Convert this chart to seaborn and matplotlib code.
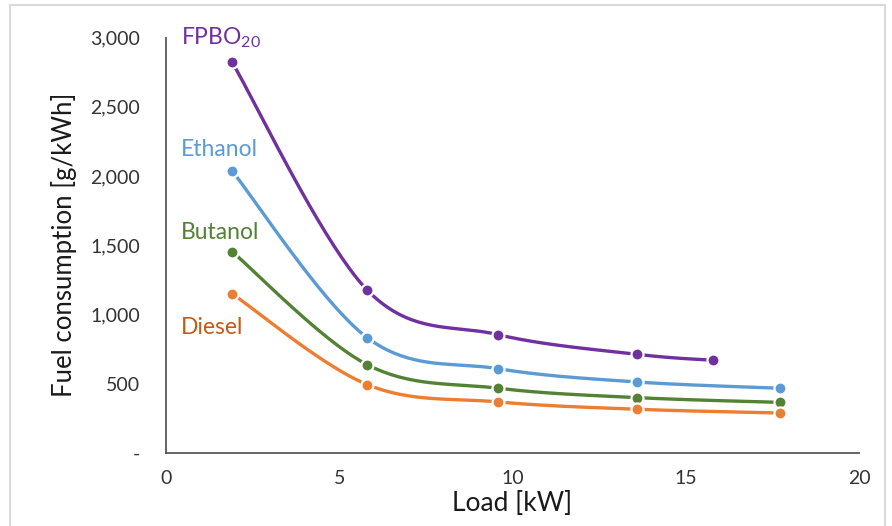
import numpy as np
import pandas as pd
import matplotlib
matplotlib.use("Agg")
import matplotlib.pyplot as plt
import seaborn as sns
from matplotlib.patches import Rectangle

# ---- data ----
load_fpbo = [1.91, 5.81, 9.59, 13.60, 15.79]
fpbo = [2822, 1175, 853, 711, 668]
load = [1.91, 5.81, 9.59, 13.60, 17.71]
ethanol = [2036, 831, 607, 511, 466]
butanol = [1453, 636, 466, 398, 364]
diesel = [1149, 492, 367, 314, 287]

series_names = ["FPBO", "Ethanol", "Butanol", "Diesel"]
label_texts = [r"FPBO$_{\mathregular{20}}$", "Ethanol", "Butanol", "Diesel"]
y_ticks = [0, 500, 1000, 1500, 2000, 2500, 3000]
y_tick_labels = ["-", "500", "1,000", "1,500", "2,000", "2,500", "3,000"]
x_ticks = [0, 5, 10, 15, 20]

line_colors = ["#7030A0", "#5B9BD5", "#548235", "#ED7D31"]
text_colors = ["#7030A0", "#5B9BD5", "#548235", "#C55A11"]
label_pos = [(0.43, 3000), (0.43, 2190), (0.43, 1595), (0.43, 905)]

sns.set_theme(style="white")
plt.rcParams["font.family"] = ["Lato", "DejaVu Sans"]
plt.rcParams["mathtext.fontset"] = "custom"
plt.rcParams["mathtext.rm"] = "Lato"


def smooth(x, y, n=40):
    """Excel-style smoothed line (Bezier through points)."""
    P = np.column_stack([x, y]).astype(float)
    ext = np.vstack([P[0], P, P[-1]])
    out = []
    t = np.linspace(0, 1, n)[:, None]
    for i in range(len(P) - 1):
        p0, p1, p2, p3 = ext[i], ext[i + 1], ext[i + 2], ext[i + 3]
        c1 = p1 + (p2 - p0) / 6
        c2 = p2 - (p3 - p1) / 6
        b = (1 - t) ** 3 * p1 + 3 * (1 - t) ** 2 * t * c1 + 3 * (1 - t) * t ** 2 * c2 + t ** 3 * p2
        out.append(b if i == 0 else b[1:])
    return np.vstack(out)


fig = plt.figure(figsize=(8.92, 5.26), dpi=100)
fig.patch.set_facecolor("white")
fig.patches.append(Rectangle((10 / 892, -0.1), 875 / 892, (521 / 526) + 0.1,
                             transform=fig.transFigure, fill=False,
                             edgecolor="#D9D9D9", linewidth=1.5, zorder=0))
ax = fig.add_axes([166 / 892, 1 - 452.7 / 526, (859 - 166) / 892, (452.7 - 37.7) / 526])

xs_all = [load_fpbo, load, load, load]
ys_all = [fpbo, ethanol, butanol, diesel]

for name, xs, ys, col in zip(series_names, xs_all, ys_all, line_colors):
    sm = smooth(xs, ys)
    sns.lineplot(x=sm[:, 0], y=sm[:, 1], sort=False, estimator=None, ax=ax,
                 color=col, linewidth=2.4, zorder=2)
    df = pd.DataFrame({"x": xs, "y": ys})
    sns.scatterplot(data=df, x="x", y="y", ax=ax, color=col, s=75,
                    edgecolor="white", linewidth=1.6, zorder=3)

for txt, (lx, ly), col in zip(label_texts, label_pos, text_colors):
    ax.text(lx, ly, txt, color=col, fontsize=16.5, ha="left", va="center")

ax.set_xlim(0, 20)
ax.set_ylim(0, 3000)
ax.set_xticks(x_ticks)
ax.set_xticklabels([str(v) for v in x_ticks])
ax.set_yticks(y_ticks)
ax.set_yticklabels(y_tick_labels)

for s in ["top", "right"]:
    ax.spines[s].set_visible(False)
for s in ["left", "bottom"]:
    ax.spines[s].set_color("#595959")
    ax.spines[s].set_linewidth(1.3)

ax.tick_params(axis="both", direction="inout", length=11, width=1.3,
               color="#595959", labelsize=14, labelcolor="#333333")
ax.tick_params(axis="y", pad=13)
ax.tick_params(axis="x", pad=7)

ax.set_xlabel("Load [kW]", fontsize=19, color="#1a1a1a", labelpad=3)
ax.set_ylabel("Fuel consumption [g/kWh]", fontsize=18.5, color="#1a1a1a", labelpad=10)
ax.grid(False)

fig.savefig("out.png", dpi=100)
